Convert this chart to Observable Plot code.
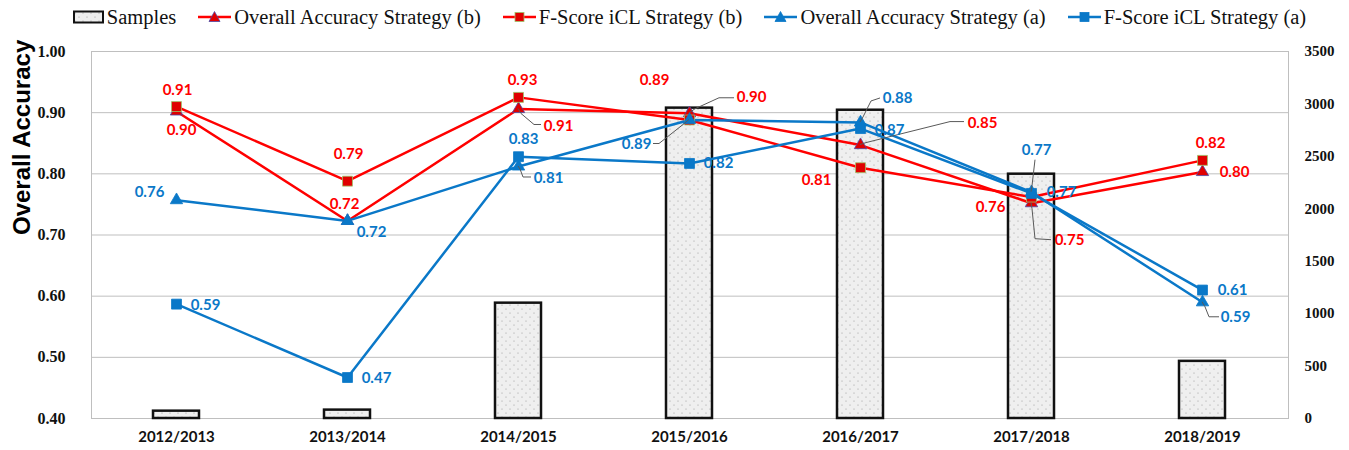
<!DOCTYPE html>
<html>
<head>
<meta charset="utf-8">
<script src="https://cdn.jsdelivr.net/npm/d3@7"></script>
<script src="https://cdn.jsdelivr.net/npm/@observablehq/plot@0.6"></script>
<style>
  body { margin: 0; background: #fff; }
  #legend { height: 34px; display: flex; justify-content: center; align-items: center;
            padding-left: 30px; font-family: "Liberation Serif", serif; font-size: 20.5px; color: #111; }
  .item { display: flex; align-items: center; margin: 0 11px; white-space: nowrap; }
  .item svg { margin-right: 3px; }
</style>
</head>
<body>
<div id="legend"></div>
<div id="chart"></div>
<script>
// ---------- data ----------
const categories = ["2012/2013", "2013/2014", "2014/2015", "2015/2016", "2016/2017", "2017/2018", "2018/2019"];
const samples = [70, 80, 1100, 2960, 2940, 2330, 545];
const overallAccB = [0.902, 0.723, 0.906, 0.899, 0.847, 0.752, 0.803];
const fScoreB     = [0.910, 0.788, 0.925, 0.888, 0.810, 0.762, 0.822];
const overallAccA = [0.757, 0.723, 0.812, 0.888, 0.884, 0.770, 0.590];
const fScoreA     = [0.587, 0.467, 0.828, 0.817, 0.874, 0.768, 0.610];
const leftTicks = [0.40, 0.50, 0.60, 0.70, 0.80, 0.90, 1.00];
const rightTicks = [0, 500, 1000, 1500, 2000, 2500, 3000, 3500];

// ---------- layout / style config ----------
const RED = "#ff0000", BLUE = "#0a78c8";
const accMin = 0.4, accMax = 1.0, sampleMax = 3500;
const toAcc = s => accMin + s / sampleMax * (accMax - accMin);
const fromAcc = v => Math.round((v - accMin) / (accMax - accMin) * sampleMax);

const series = [
  {key: "oaB", name: "Overall Accuracy Strategy (b)", values: overallAccB, color: RED, symbol: "triangle", fill: "#e00000", mstroke: "#4a4aa8"},
  {key: "fsB", name: "F-Score iCL Strategy (b)", values: fScoreB, color: RED, symbol: "square", fill: "#e00000", mstroke: "#9cc46a"},
  {key: "oaA", name: "Overall Accuracy Strategy (a)", values: overallAccA, color: BLUE, symbol: "triangle", fill: BLUE, mstroke: BLUE},
  {key: "fsA", name: "F-Score iCL Strategy (a)", values: fScoreA, color: BLUE, symbol: "square", fill: BLUE, mstroke: BLUE}
];

// label offsets (pixels, relative to each point)
const labelOffsets = {
  oaB: [[5, 19], [-3, -17], [40, 17], [62, -16], [122, -22], [38, 37], [32, 0]],
  fsB: [[1, -16], [1, -27], [4, -17], [-35, -40], [-44, 12], [-41, 10], [8, -17]],
  oaA: [[-27, -8], [24, 11], [30, 12], [-53, 24], [37, -24], [5, -42], [33, 15]],
  fsA: [[29, 1], [29, 1], [5, -18], [29, 0], [29, 2], [30, -1], [30, 0]]
};
// leader-line waypoints (pixels, relative to each point)
const leaderPaths = {
  oaB: {2: [[3, 5], [16, 16], [23, 16]], 3: [[6, -4], [30, -15], [45, -15]], 4: [[6, -2], [90, -23], [104, -23]], 5: [[1, 6], [4, 36], [20, 37]]},
  oaA: {2: [[2, 3], [5, 11], [13, 11]], 3: [[-6, 5], [-30, 24], [-36, 24]], 4: [[3, -5], [11, -21], [20, -24]], 5: [[1, -6], [4, -32]], 6: [[3, 5], [7, 15], [17, 15]]}
};

// ---------- tables ----------
const table = categories.map((c, i) => ({cat: c, samples: samples[i]}));
const points = series.flatMap(s => s.values.map((v, i) => ({key: s.key, cat: categories[i], value: v, s, i})));
const labels = points.map(p => {
  const [dx, dy] = labelOffsets[p.key][p.i];
  return {...p, dx, dy, text: p.value.toFixed(2)};
});
const leaders = [];
for (const k in leaderPaths) {
  const s = series.find(d => d.key === k);
  for (const i in leaderPaths[k]) leaders.push({cat: categories[i], value: s.values[i], path: leaderPaths[k][i]});
}

// ---------- legend ----------
const legend = d3.select("#legend");
{
  const it = legend.append("div").attr("class", "item");
  const sv = it.append("svg").attr("width", 31).attr("height", 14);
  const pat = sv.append("defs").append("pattern").attr("id", "dotsLegend").attr("width", 8).attr("height", 8).attr("patternUnits", "userSpaceOnUse");
  pat.append("rect").attr("width", 8).attr("height", 8).attr("fill", "#eeeeee");
  pat.append("circle").attr("cx", 2).attr("cy", 3).attr("r", 0.6).attr("fill", "#999");
  pat.append("circle").attr("cx", 6).attr("cy", 7).attr("r", 0.6).attr("fill", "#999");
  sv.append("rect").attr("x", 1).attr("y", 1.5).attr("width", 29).attr("height", 11).attr("fill", "url(#dotsLegend)").attr("stroke", "#111").attr("stroke-width", 2);
  it.append("span").text("Samples");
}
for (const s of series) {
  const it = legend.append("div").attr("class", "item");
  const sv = it.append("svg").attr("width", 33).attr("height", 14);
  sv.append("line").attr("x1", 0).attr("x2", 33).attr("y1", 7).attr("y2", 7).attr("stroke", s.color).attr("stroke-width", 2.5);
  if (s.symbol === "triangle") sv.append("path").attr("d", "M16.5,1.5L22,11.5L11,11.5Z").attr("fill", s.fill).attr("stroke", s.mstroke).attr("stroke-width", 0.8);
  else sv.append("rect").attr("x", 12).attr("y", 2.5).attr("width", 9).attr("height", 9).attr("fill", s.fill).attr("stroke", s.mstroke).attr("stroke-width", 0.8);
  it.append("span").text(s.name);
}

// ---------- chart ----------
const patternDefs = () => {
  const defs = d3.create("svg:defs");
  const pat = defs.append("pattern").attr("id", "dotsBar").attr("width", 8).attr("height", 8).attr("patternUnits", "userSpaceOnUse");
  pat.append("rect").attr("width", 8).attr("height", 8).attr("fill", "#efefef");
  pat.append("circle").attr("cx", 2).attr("cy", 3).attr("r", 0.6).attr("fill", "#9a9a9a");
  pat.append("circle").attr("cx", 6).attr("cy", 7).attr("r", 0.6).attr("fill", "#9a9a9a");
  return defs.node();
};

const leaderMark = (index, scales) => {
  const g = d3.create("svg:g").attr("fill", "none").attr("stroke", "#595959").attr("stroke-width", 1);
  const half = scales.x.bandwidth ? scales.x.bandwidth() / 2 : 0;
  for (const L of leaders) {
    const x0 = scales.x(L.cat) + half, y0 = scales.y(L.value);
    g.append("polyline").attr("points", [[0, 0], ...L.path].map(([dx, dy]) => `${x0 + dx},${y0 + dy}`).join(" "));
  }
  return g.node();
};

const lineMarks = series.map(s => Plot.line(table.map((d, i) => ({cat: d.cat, v: s.values[i]})),
  {x: "cat", y: "v", stroke: s.color, strokeWidth: 2.5}));
const dotMarks = series.map(s => Plot.dot(table.map((d, i) => ({cat: d.cat, v: s.values[i]})),
  {x: "cat", y: "v", symbol: s.symbol, r: s.symbol === "triangle" ? 4.6 : 5.6, fill: s.fill, stroke: s.mstroke, strokeWidth: 0.8}));
const labelMarks = labels.map(l => Plot.text([l], {x: "cat", y: "value", text: "text", dx: l.dx, dy: l.dy,
  fill: l.s.color, fontFamily: "Lato, sans-serif", fontWeight: "bold", fontSize: 15}));

const chart = Plot.plot({
  width: 1349,
  height: 416,
  marginTop: 17,
  marginBottom: 32,
  marginLeft: 91,
  marginRight: 61,
  style: {fontFamily: "Liberation Serif, serif", fontSize: "15px", color: "#111", background: "#fff"},
  x: {domain: categories, paddingInner: 0.73, paddingOuter: 0.365, label: null},
  y: {domain: [accMin, accMax], label: null},
  marks: [
    patternDefs,
    Plot.gridY(leftTicks, {stroke: "#bfbfbf", strokeOpacity: 1, strokeWidth: 1}),
    Plot.frame({stroke: "#bfbfbf", strokeWidth: 1}),
    Plot.barY(table, {x: "cat", y1: () => accMin, y2: d => toAcc(d.samples), fill: "url(#dotsBar)", stroke: "#111", strokeWidth: 2.5}),
    ...lineMarks,
    ...dotMarks,
    leaderMark,
    ...labelMarks,
    Plot.axisY(leftTicks, {anchor: "left", tickSize: 0, tickPadding: 26, tickFormat: d3.format(".2f"), fontWeight: "bold", fontSize: 16, label: null}),
    Plot.axisY(rightTicks.map(toAcc), {anchor: "right", tickSize: 0, tickPadding: 16, tickFormat: v => String(fromAcc(v)), fontWeight: "bold", label: null}),
    Plot.axisX({tickSize: 0, tickPadding: 13, fontFamily: "Lato, sans-serif", fontWeight: "bold", fontSize: 15, label: null}),
    Plot.text(["Overall Accuracy"], {frameAnchor: "left", dx: -69, rotate: -90, fontFamily: "Liberation Sans, Arial, sans-serif", fontWeight: "bold", fontSize: 24, fill: "#000"})
  ]
});
document.getElementById("chart").appendChild(chart);
</script>
</body>
</html>
